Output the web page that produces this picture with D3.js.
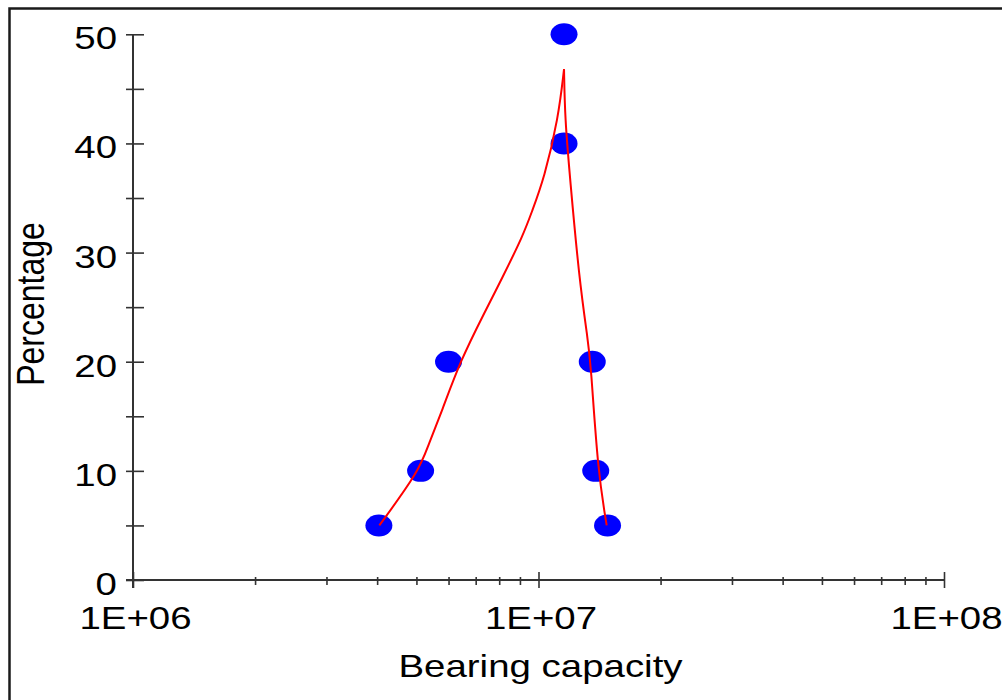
<!DOCTYPE html>
<html>
<head>
<meta charset="utf-8">
<script src="https://cdn.jsdelivr.net/npm/d3@7"></script>
<style>
  body { margin: 0; background: #fff; }
  svg { display: block; }
  text { font-family: 'Liberation Sans', Arial, sans-serif; fill: #000; }
</style>
</head>
<body>
<svg id="chart" width="1002" height="700"></svg>
<script>
// measured points
const capacity = [4.04e6, 5.12e6, 6.0e6, 1.156e7, 1.156e7, 1.357e7, 1.384e7, 1.48e7];
const percent = [5, 10, 20, 40, 50, 20, 10, 5];

// fitted curve (rising and falling branch)
const fitLeftX = [4.05e6, 5.08e6, 5.35e6, 5.77e6, 6.40e6, 7.38e6, 8.12e6, 9.17e6, 9.62e6, 1.033e7, 1.119e7, 1.156e7];
const fitLeftY = [5, 10, 12.4, 15.4, 20, 24.6, 27.6, 31.6, 33.7, 36.8, 42.3, 46.8];
const fitRightX = [1.156e7, 1.162e7, 1.196e7, 1.260e7, 1.322e7, 1.345e7, 1.400e7, 1.473e7];
const fitRightY = [46.8, 42.3, 36.8, 27.6, 22.1, 20, 10, 5];

const yTicks = [0, 10, 20, 30, 40, 50];
const yMinorTicks = [0, 5, 10, 15, 20, 25, 30, 35, 40, 45, 50];
const xTicks = [1e6, 1e7, 1e8];
const xTickLabels = ['1E+06', '1E+07', '1E+08'];

const svg = d3.select('#chart');
const sx = 1.24;           // the picture is stretched sideways
const fontSize = 31;

const x = d3.scaleLog().domain([1e6, 1e8]).range([133, 944]);
const y = d3.scaleLinear().domain([0, 50]).range([580, 34.3]);

// frame (top and left edge only)
svg.append('path')
  .attr('d', 'M9.5,700V8.5H1002')
  .attr('fill', 'none')
  .attr('stroke', '#1a1a1a')
  .attr('stroke-width', 2.5);

// axis lines
svg.append('line')
  .attr('x1', 133).attr('x2', 133)
  .attr('y1', y(50)).attr('y2', 588)
  .attr('stroke', '#333').attr('stroke-width', 2);
svg.append('line')
  .attr('x1', 126).attr('x2', x(1e8))
  .attr('y1', y(0)).attr('y2', y(0))
  .attr('stroke', '#333').attr('stroke-width', 2);

// y ticks
const gy = svg.append('g')
  .attr('transform', 'translate(133,0)')
  .call(d3.axisLeft(y).tickValues(yMinorTicks).tickFormat('').tickSizeOuter(0));
gy.select('.domain').remove();
gy.selectAll('.tick line').attr('x1', 11).attr('x2', -7).attr('stroke', '#333').attr('stroke-width', 1.6);

// x ticks, minor then major
const minor = x.ticks().filter(v => !xTicks.includes(v));
const gxm = svg.append('g')
  .attr('transform', `translate(0,${y(0)})`)
  .call(d3.axisBottom(x).tickValues(minor).tickFormat('').tickSizeOuter(0));
gxm.select('.domain').remove();
gxm.selectAll('.tick line').attr('y1', -3).attr('y2', 5).attr('stroke', '#333').attr('stroke-width', 1.6);

const gx = svg.append('g')
  .attr('transform', `translate(0,${y(0)})`)
  .call(d3.axisBottom(x).tickValues(xTicks).tickFormat('').tickSizeOuter(0));
gx.select('.domain').remove();
gx.selectAll('.tick line').attr('y1', -8).attr('y2', 8).attr('stroke', '#333').attr('stroke-width', 1.6);

// tick labels
svg.selectAll('.ylab')
  .data(yTicks)
  .enter().append('text')
  .attr('class', 'ylab')
  .attr('transform', d => `translate(117,${y(d) + 15}) scale(${sx},1)`)
  .attr('text-anchor', 'end')
  .attr('font-size', fontSize)
  .text(d => d);

svg.selectAll('.xlab')
  .data(xTicks)
  .enter().append('text')
  .attr('class', 'xlab')
  .attr('transform', d => `translate(${x(d) + 2.5},629) scale(${sx},1)`)
  .attr('text-anchor', 'middle')
  .attr('font-size', fontSize)
  .text((d, i) => xTickLabels[i]);

// axis titles
svg.append('text')
  .attr('transform', `translate(540.5,677) scale(${sx},1)`)
  .attr('text-anchor', 'middle')
  .attr('font-size', fontSize)
  .text('Bearing capacity');

svg.append('text')
  .attr('transform', `translate(44,304) scale(${sx},1) rotate(-90)`)
  .attr('text-anchor', 'middle')
  .attr('font-size', fontSize + 1)
  .text('Percentage');

// points
svg.selectAll('.dot')
  .data(capacity)
  .enter().append('ellipse')
  .attr('class', 'dot')
  .attr('cx', d => x(d))
  .attr('cy', (d, i) => y(percent[i]))
  .attr('rx', 13.5)
  .attr('ry', 11)
  .attr('fill', '#0000ff');

// fitted curve on top
const line = d3.line()
  .x(d => x(d[0]))
  .y(d => y(d[1]))
  .curve(d3.curveBasis);

[[fitLeftX, fitLeftY], [fitRightX, fitRightY]].forEach(([xs, ys]) => {
  svg.append('path')
    .datum(xs.map((v, i) => [v, ys[i]]))
    .attr('d', line)
    .attr('fill', 'none')
    .attr('stroke', '#ff0000')
    .attr('stroke-width', 2);
});
</script>
</body>
</html>
